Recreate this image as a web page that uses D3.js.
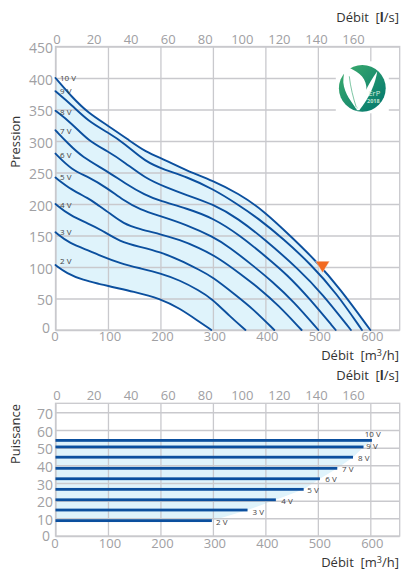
<!DOCTYPE html>
<html>
<head>
<meta charset="utf-8">
<style>
  html, body { margin: 0; padding: 0; background: #fff; }
  svg { display: block; }
  text { font-family: "Open Sans", sans-serif; }
</style>
<script src="https://cdn.jsdelivr.net/npm/d3@7"></script>
</head>
<body>
<div id="chart"></div>
<script>
// debit in m3/h, pression in Pa, puissance in W
const voltages = ["2 V", "3 V", "4 V", "5 V", "6 V", "7 V", "8 V", "9 V", "10 V"];

const curve2V = [[0,103],[21,90],[53,79],[85,73],[104,69],[148,61],[200,50],[237,34],[269,16],[297,0]];
const curve3V = [[0,155],[27,137],[65,126],[85,118],[123,106],[161,98],[200,90],[237,79],[273,63],[298,50],[333,21],[362,0]];
const curve4V = [[0,200],[27,182],[65,168],[85,160],[123,140],[161,132],[199,124],[237,111],[275,95],[298,85],[344,55],[377,33],[417,0]];
const curve5V = [[0,242],[31,222],[63,209],[78,200],[104,185],[129,169],[161,160],[200,152],[237,143],[272,131],[310,115],[354,88],[387,67],[424,40],[469,0]];
const curve6V = [[0,280],[31,254],[63,243],[99,225],[129,206],[161,191],[199,181],[250,167],[300,148],[331,132],[378,101],[413,77],[453,46],[501,0]];
const curve7V = [[0,317],[24,296],[50,275],[99,252],[132,233],[171,214],[199,205],[250,193],[300,178],[352,150],[403,115],[441,88],[482,52],[534,0]];
const curve8V = [[0,348],[31,328],[63,300],[99,284],[132,266],[171,241],[209,227],[250,214],[300,200],[348,177],[400,143],[464,96],[508,58],[563,0]];
const curve9V = [[0,379],[31,357],[63,331],[99,314],[132,296],[171,267],[209,254],[250,243],[300,224],[348,199],[385,178],[434,145],[487,104],[536,58],[584,0]];
const curve10V = [[0,400],[31,370],[63,344],[99,325],[139,302],[171,283],[209,270],[250,253],[300,237],[348,217],[396,190],[453,145],[495,111],[542,66],[600,0]];
const curves = [curve2V, curve3V, curve4V, curve5V, curve6V, curve7V, curve8V, curve9V, curve10V];

const powerValues = [8.7, 14.7, 20.5, 26.4, 32.4, 38.3, 44.6, 50.4, 54.1];
const powerFlows = [298, 366, 420, 473, 504, 537, 567, 587, 603];

const dutyPoint = [509, 91];

const flowTicks = [0, 100, 200, 300, 400, 500, 600];
const lpsTicks = [0, 20, 40, 60, 80, 100, 120, 140, 160];
const pressureTicks = [0, 50, 100, 150, 200, 250, 300, 350, 400, 450];
const powerTicks = [0, 10, 20, 30, 40, 50, 60, 70];

const width = 402;
const height = 572;
const left = 55.5;
const right = 399.7;

const tickColor = "#a0a0a3";
const gridColor = "#c9c9cd";
const lineColor = "#0b4f9e";
const fillColor = "#dff3fb";

const svg = d3.select("#chart").append("svg")
  .attr("width", width)
  .attr("height", height);

const defs = svg.append("defs");
const logoGrad = defs.append("linearGradient")
  .attr("id", "logo-grad")
  .attr("x1", "0").attr("y1", "0").attr("x2", "1").attr("y2", "1");
logoGrad.append("stop").attr("offset", "0").attr("stop-color", "#3fae6c");
logoGrad.append("stop").attr("offset", "1").attr("stop-color", "#00756f");

const xFlow = d3.scaleLinear().domain([0, 656]).range([left, right]);
const xLps = d3.scaleLinear().domain([0, 160]).range([56.5, 353]);

// draws frame, grid and the two flow axes of one panel
function drawPanel(y, yTicks, topLabelY, bottomLabelY, zeroDy) {
  const top = y.range()[1];
  const bottom = y.range()[0];
  const g = svg.append("g");

  const gridY = g.append("g")
    .attr("transform", `translate(${left},0)`)
    .call(d3.axisLeft(y).tickValues(yTicks).tickSize(-(right - left)).tickFormat(""));
  gridY.select(".domain").remove();
  gridY.selectAll("line").attr("stroke", gridColor).attr("stroke-width", 1.5);

  const gridX = g.append("g")
    .attr("transform", `translate(0,${bottom})`)
    .call(d3.axisBottom(xFlow).tickValues(flowTicks).tickSize(-(bottom - top)).tickFormat(""));
  gridX.select(".domain").remove();
  gridX.selectAll("line").attr("stroke", gridColor).attr("stroke-width", 1.3);

  g.append("rect")
    .attr("x", left).attr("y", top)
    .attr("width", right - left).attr("height", bottom - top)
    .attr("fill", "none")
    .attr("stroke", gridColor)
    .attr("stroke-width", 1.3);

  // tick labels on their own, the original sets them a little off the lines
  const labelsY = svg.append("g")
    .attr("transform", `translate(53,0)`)
    .call(d3.axisLeft(y).tickValues(yTicks).tickSize(0).tickPadding(0));
  labelsY.select(".domain").remove();
  labelsY.selectAll("text")
    .attr("x", d => d === 0 ? -3 : 0)
    .attr("dy", d => d === 0 ? zeroDy : "0.43em")
    .attr("fill", tickColor)
    .style("font-size", "14px")
    .style("font-family", '"Open Sans", sans-serif');

  const labelsBottom = svg.append("g")
    .attr("transform", `translate(0,${bottomLabelY})`)
    .call(d3.axisBottom(xFlow).tickValues(flowTicks).tickSize(0).tickPadding(0));
  labelsBottom.select(".domain").remove();
  labelsBottom.selectAll("text")
    .attr("x", d => d === 0 ? -1 : 1.5)
    .attr("y", 0)
    .attr("dy", "0.36em")
    .attr("fill", tickColor)
    .style("font-size", "13px")
    .style("font-family", '"Open Sans", sans-serif');

  const labelsTop = svg.append("g")
    .attr("transform", `translate(0,${topLabelY})`)
    .call(d3.axisTop(xLps).tickValues(lpsTicks).tickSize(0).tickPadding(0));
  labelsTop.select(".domain").remove();
  labelsTop.selectAll("text")
    .attr("y", 0)
    .attr("dy", "0.36em")
    .attr("fill", tickColor)
    .style("font-size", "13px")
    .style("font-family", '"Open Sans", sans-serif');
}

function axisTitle(x, y, parts) {
  const t = svg.append("text")
    .attr("x", x).attr("y", y)
    .attr("text-anchor", "end")
    .attr("fill", "#333")
    .style("font-size", "13px");
  parts.forEach(p => {
    const s = t.append("tspan").text(p.text);
    if (p.bold) s.style("font-weight", "700");
    if (p.sup) s.attr("dy", -4).style("font-size", "9px");
    if (p.down) s.attr("dy", 4);
  });
}

function sideTitle(label, cy) {
  svg.append("text")
    .attr("transform", `translate(20,${cy}) rotate(-90)`)
    .attr("text-anchor", "middle")
    .attr("fill", "#333")
    .style("font-size", "13px")
    .text(label);
}

function voltLabel(label, x, y, anchor) {
  svg.append("text")
    .attr("x", x).attr("y", y)
    .attr("dy", "0.35em")
    .attr("text-anchor", anchor || "start")
    .attr("fill", "#444")
    .style("font-size", "8px")
    .text(label);
}

// ---- upper chart: pression
const yPressure = d3.scaleLinear().domain([0, 450]).range([330, 46.5]);

// basis curve, the readings carry a bit of noise and the original lines are smooth
const area = d3.area()
  .x(d => xFlow(d[0]))
  .y0(yPressure(0))
  .y1(d => yPressure(d[1]))
  .curve(d3.curveBasis);

const line = d3.line()
  .x(d => xFlow(d[0]))
  .y(d => yPressure(d[1]))
  .curve(d3.curveBasis);

// fill only runs between the 2 V and 10 V curves, so blank out under 2 V
svg.append("path")
  .attr("d", area(curve10V))
  .attr("fill", fillColor);
svg.append("path")
  .attr("d", area(curve2V))
  .attr("fill", "#fff");

drawPanel(yPressure, pressureTicks, 39.5, 336, "0.18em");

svg.append("g").selectAll("path")
  .data(curves)
  .enter().append("path")
  .attr("d", line)
  .attr("fill", "none")
  .attr("stroke", lineColor)
  .attr("stroke-width", 1.9)
  .attr("stroke-linecap", "round");

// voltage tags sit just right of where each curve starts
const pressureLabelY = [260.7, 232, 205, 177, 155, 131, 112, 91, 78];
voltages.forEach((v, i) => voltLabel(v, 60, pressureLabelY[i]));

// duty point, tip of the triangle on the value
const dutyX = xFlow(dutyPoint[0]);
const dutyY = yPressure(dutyPoint[1]);
svg.append("path")
  .attr("d", `M${dutyX - 7},${dutyY - 11.5}L${dutyX + 7},${dutyY - 11.5}L${dutyX},${dutyY}Z`)
  .attr("fill", "#f26a21")
  .attr("stroke", "#fff")
  .attr("stroke-opacity", 0.5)
  .attr("stroke-width", 0.8);

// ErP logo
const logo = svg.append("g").attr("transform", "translate(362.3,88.3)");
logo.append("rect")
  .attr("x", -26.5).attr("y", -27).attr("width", 53).attr("height", 52)
  .attr("fill", "#fff");
logo.append("circle")
  .attr("r", 23.4)
  .attr("fill", "url(#logo-grad)");
logo.append("path")
  .attr("d", "M-17,-22 C-6,-18 3,-12 4,-2 C5,6 0,14 -6,21 C-10,14 -18,6 -19,-6 C-19,-12 -18,-17 -17,-22Z")
  .attr("fill", "#fff");
logo.append("path")
  .attr("d", "M-6,22 C0,8 7,-6 15,-17 C13,-5 8,8 -3,22Z")
  .attr("fill", "#fff");
logo.append("path")
  .attr("d", "M-13,-12 C-12,-2 -9,10 -6,19")
  .attr("fill", "none")
  .attr("stroke", "#6fbf9a")
  .attr("stroke-width", 0.9);
logo.append("text")
  .attr("x", 12).attr("y", 8)
  .attr("text-anchor", "middle")
  .attr("fill", "#d8f0e0")
  .style("font-size", "7.5px")
  .text("ErP");
logo.append("text")
  .attr("x", 11).attr("y", 15)
  .attr("text-anchor", "middle")
  .attr("fill", "#bfe4d2")
  .style("font-size", "5.5px")
  .style("font-weight", "700")
  .text("2018");

sideTitle("Pression", 141.7);
axisTitle(399, 22, [{ text: "Débit\u00a0\u00a0[" }, { text: "l", bold: true }, { text: "/s]" }]);
axisTitle(399, 360, [{ text: "Débit\u00a0\u00a0[m" }, { text: "3", sup: true }, { text: "/h]", down: true }]);

// ---- lower chart: puissance
const yPower = d3.scaleLinear().domain([0, 75.1]).range([536, 403.3]);

// the pale fill runs from the axis out to the bar ends
const powerFill = powerValues.map((v, i) => [powerFlows[i], v]);
svg.append("path")
  .attr("d", d3.area()
    .x0(xFlow(0))
    .x1(d => xFlow(d[0]))
    .y(d => yPower(d[1]))(powerFill))
  .attr("fill", fillColor);

drawPanel(yPower, powerTicks, 395, 543.5, "0.32em");

svg.append("g").selectAll("rect")
  .data(powerValues)
  .enter().append("rect")
  .attr("x", xFlow(0))
  .attr("y", d => yPower(d) - 1.4)
  .attr("width", (d, i) => xFlow(powerFlows[i]) - xFlow(0))
  .attr("height", 2.8)
  .attr("fill", lineColor);

const powerLabelX = [221.7, 258.3, 287, 313, 331, 347.7, 363.7, 372, 372.7];
const powerLabelY = [522, 512, 501, 490.5, 479, 469.5, 458, 446, 434];
voltages.forEach((v, i) => voltLabel(v, powerLabelX[i], powerLabelY[i], "middle"));

sideTitle("Puissance", 434);
axisTitle(399, 380, [{ text: "Débit\u00a0\u00a0[" }, { text: "l", bold: true }, { text: "/s]" }]);
axisTitle(399, 567, [{ text: "Débit\u00a0\u00a0[m" }, { text: "3", sup: true }, { text: "/h]", down: true }]);
</script>
</body>
</html>
